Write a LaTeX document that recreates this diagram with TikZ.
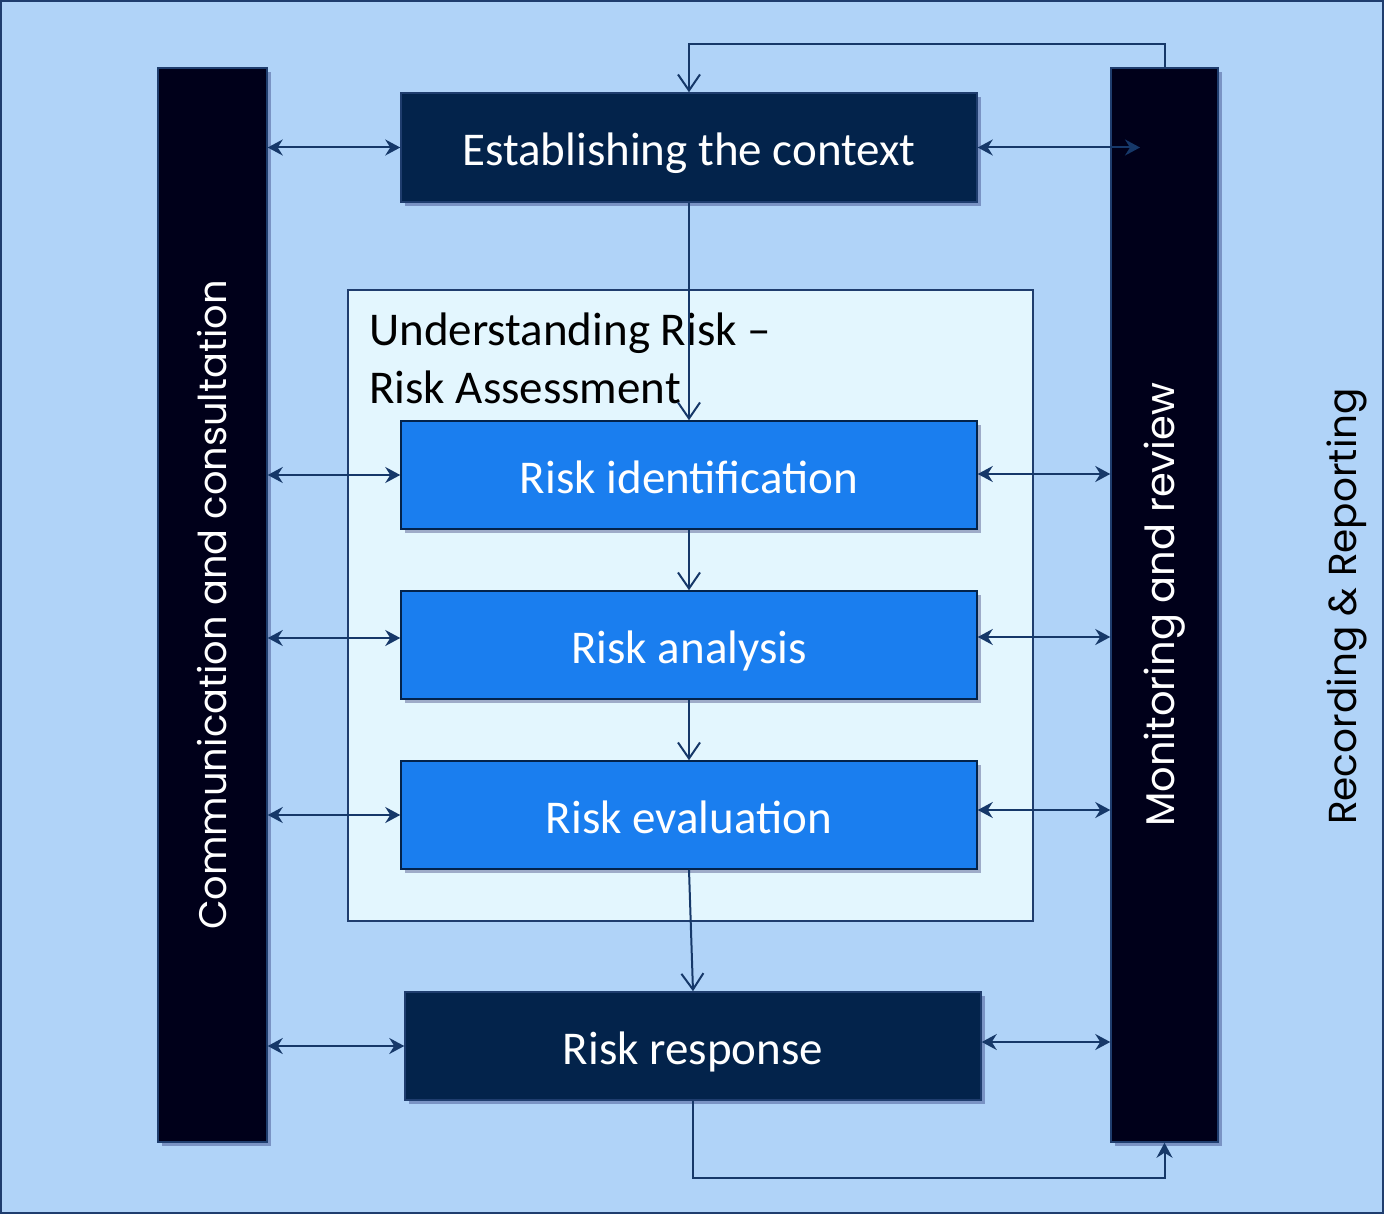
\documentclass[tikz,border=0pt]{standalone}
\usepackage{fontspec}
\setmainfont{Carlito}
\newfontfamily\geo{Poppins}
\usetikzlibrary{arrows.meta,shadows}
\definecolor{bgc}{RGB}{176,211,248}
\definecolor{bordc}{RGB}{31,61,110}
\definecolor{barc}{RGB}{0,0,26}
\definecolor{darkc}{RGB}{3,35,75}
\definecolor{bluec}{RGB}{26,126,239}
\definecolor{panelc}{RGB}{227,246,254}
\definecolor{linec}{RGB}{22,56,105}
\begin{document}
\begin{tikzpicture}[x=1pt,y=-1pt,
  shad/.style={drop shadow={shadow xshift=4pt,shadow yshift=-4pt,opacity=0.3,fill=black!70!blue}},
  sidebar/.style={draw=bordc,line width=1.5pt,fill=barc,text=white,inner sep=0pt,shad},
  darkbox/.style={draw=bordc,line width=1.5pt,fill=darkc,text=white,inner sep=0pt,shad,
     minimum width=576pt,minimum height=108pt,text height=37pt,text depth=0pt,
     font=\fontsize{47}{58}\selectfont},
  bluebox/.style={darkbox,fill=bluec,draw=darkc},
  panelbox/.style={draw=bordc,line width=1.5pt,fill=panelc,inner sep=0pt},
  dbl/.style={draw=linec,line width=2pt,{Stealth[length=15pt,width=16pt,inset=5pt]}-{Stealth[length=15pt,width=16pt,inset=5pt]}},
  barb/.style={draw=linec,line width=2pt,-{Straight Barb[length=16pt,width=22pt,line width=2pt]}},
  stl/.style={draw=linec,line width=2pt,-{Stealth[length=15pt,width=16pt,inset=5pt]}}
]
\fill[bgc] (0,0) rectangle (1384,1214);
\draw[bordc,line width=2pt] (1,1) rectangle (1383,1213);
\useasboundingbox (0,0) rectangle (1384,1214);

% side bars
\node[sidebar,minimum width=109pt,minimum height=1074pt,font=\geo\fontsize{38.4}{46}\selectfont] (comm) at (212.5,605) {\rotatebox{90}{Communication and consultation}};
\node[sidebar,minimum width=107pt,minimum height=1074pt,font=\geo\fontsize{40}{48}\selectfont] (mon) at (1164.5,605) {\rotatebox{90}{Monitoring and review}};
\node[font=\geo\fontsize{39}{47}\selectfont,text=black,inner sep=0pt] (rec) at (1347,606.5) {\rotatebox{90}{Recording \& Reporting}};

% panel
\node[panelbox,minimum width=685pt,minimum height=631pt] (panel) at (690.5,605.5) {};
\node[anchor=north west,align=left,inner sep=0pt,font=\fontsize{47}{58}\selectfont] (ptitle) at (369,313) {Understanding Risk --\\Risk Assessment};

% boxes
\node[darkbox,minimum height=109pt] (ctx) at (689,147.5) {Establishing the context};
\node[bluebox] (ident) at (689,475) {Risk identification};
\node[bluebox] (anal) at (689,645) {Risk analysis};
\node[bluebox] (eval) at (689,815) {Risk evaluation};
\node[darkbox] (resp) at (693,1046) {Risk response};

% vertical flow
\draw[barb] (ctx.south) -- (ident.north);
\draw[barb] (ident.south) -- (anal.north);
\draw[barb] (anal.south) -- (eval.north);
\draw[barb] (eval.south) -- (resp.north);

% loops
\draw[barb] (mon.north) -- ++(0,-23) -| (ctx.north);
\draw[stl] (resp.south) -- ++(0,77) -| (mon.south);

% left arrows
\draw[dbl] (comm.east |- ctx.west) -- (ctx.west);
\draw[dbl] (comm.east |- ident.west) -- (ident.west);
\draw[dbl] ([yshift=7pt]comm.east |- anal.west) -- ([yshift=7pt]anal.west);
\draw[dbl] (comm.east |- eval.west) -- (eval.west);
\draw[dbl] (comm.east |- resp.west) -- (resp.west);

% right arrows
\coordinate (ctxr) at (1140,147.5);
\draw[dbl] (ctx.east) -- (ctxr);
\draw[dbl] ([yshift=1pt]ident.east) -- ([yshift=1pt]mon.west |- ident.east);
\draw[dbl] ([yshift=8pt]anal.east) -- ([yshift=8pt]mon.west |- anal.east);
\draw[dbl] ([yshift=5pt]eval.east) -- ([yshift=5pt]mon.west |- eval.east);
\draw[dbl] ([yshift=4pt]resp.east) -- ([yshift=4pt]mon.west |- resp.east);
\end{tikzpicture}
\end{document}
